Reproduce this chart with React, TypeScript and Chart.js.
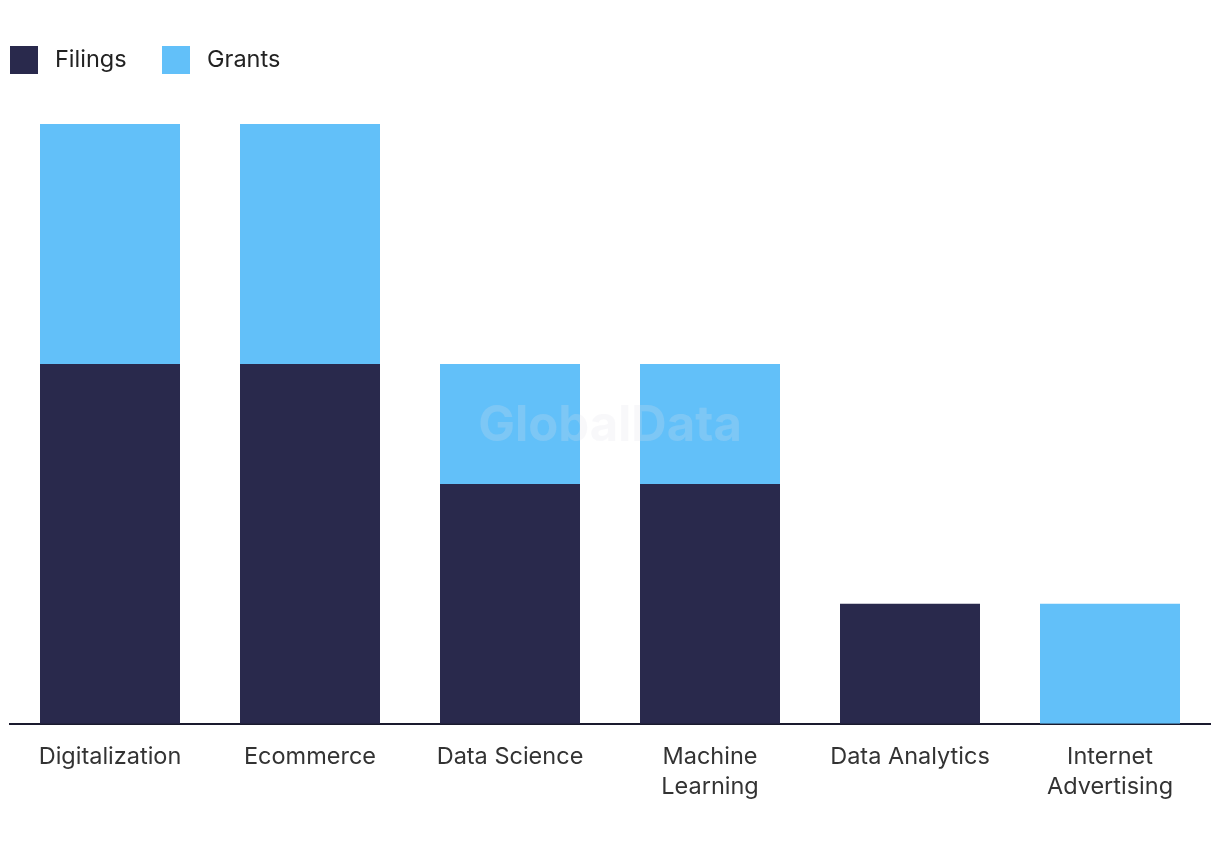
import React, { useEffect, useRef } from "react";
import { Chart, registerables } from "chart.js";

Chart.register(...registerables);

const categories: (string | string[])[] = [
  "Digitalization",
  "Ecommerce",
  "Data Science",
  ["Machine", "Learning"],
  "Data Analytics",
  ["Internet", "Advertising"],
];
const filings = [3, 3, 2, 2, 1, 0];
const grants = [2, 2, 1, 1, 0, 1];
const seriesNames = ["Filings", "Grants"];
const seriesColors = ["#29294c", "#62c0f9"];
const legendLeft = [10, 162];
const FONT = "Inter, 'Noto Sans', sans-serif";

const watermark = {
  id: "watermark",
  afterDatasetsDraw(chart: any) {
    const { ctx, chartArea } = chart;
    ctx.save();
    ctx.font = `bold 49px ${FONT}`;
    ctx.fillStyle = "rgba(225,225,232,0.22)";
    ctx.textAlign = "center";
    ctx.textBaseline = "middle";
    ctx.fillText("GlobalData", (chartArea.left + chartArea.right) / 2, 426);
    ctx.restore();
  },
};

export default function App() {
  const ref = useRef<HTMLCanvasElement>(null);
  useEffect(() => {
    if (!ref.current) return;
    const chart = new Chart(ref.current, {
      type: "bar",
      data: {
        labels: categories,
        datasets: [
          { label: seriesNames[0], data: filings, backgroundColor: seriesColors[0] },
          { label: seriesNames[1], data: grants, backgroundColor: seriesColors[1] },
        ],
      },
      options: {
        animation: false,
        responsive: false,
        maintainAspectRatio: false,
        layout: { padding: { left: 10, right: 10, top: 124, bottom: 38 } },
        datasets: { bar: { barPercentage: 0.7, categoryPercentage: 1 } },
        plugins: { legend: { display: false }, tooltip: { enabled: false } },
        scales: {
          x: {
            stacked: true,
            grid: { display: false },
            border: { display: true, color: "#1a1a2e", width: 2 },
            ticks: {
              color: "#333333",
              font: { family: FONT, size: 23.5, lineHeight: 1.28 },
              padding: 10,
              maxRotation: 0,
              autoSkip: false,
            },
          },
          y: {
            stacked: true,
            display: false,
            min: 0,
            max: 5,
          },
        },
      },
      plugins: [watermark],
    });
    return () => chart.destroy();
  }, []);

  return (
    <div style={{ position: "absolute", left: 0, top: 0, width: 1220, height: 850, background: "#fff" }}>
      <canvas ref={ref} width={1220} height={850} style={{ position: "absolute", left: 0, top: 0 }} />
      {seriesNames.map((n, i) => (
        <div
          key={n}
          style={{
            position: "absolute",
            left: legendLeft[i],
            top: 46,
            height: 28,
            display: "flex",
            alignItems: "center",
            fontFamily: FONT,
            fontSize: 23.5,
            color: "#222",
          }}
        >
          <div style={{ width: 28, height: 28, background: seriesColors[i], marginRight: 17 }} />
          <span style={{ position: "relative", top: -2 }}>{n}</span>
        </div>
      ))}
    </div>
  );
}
